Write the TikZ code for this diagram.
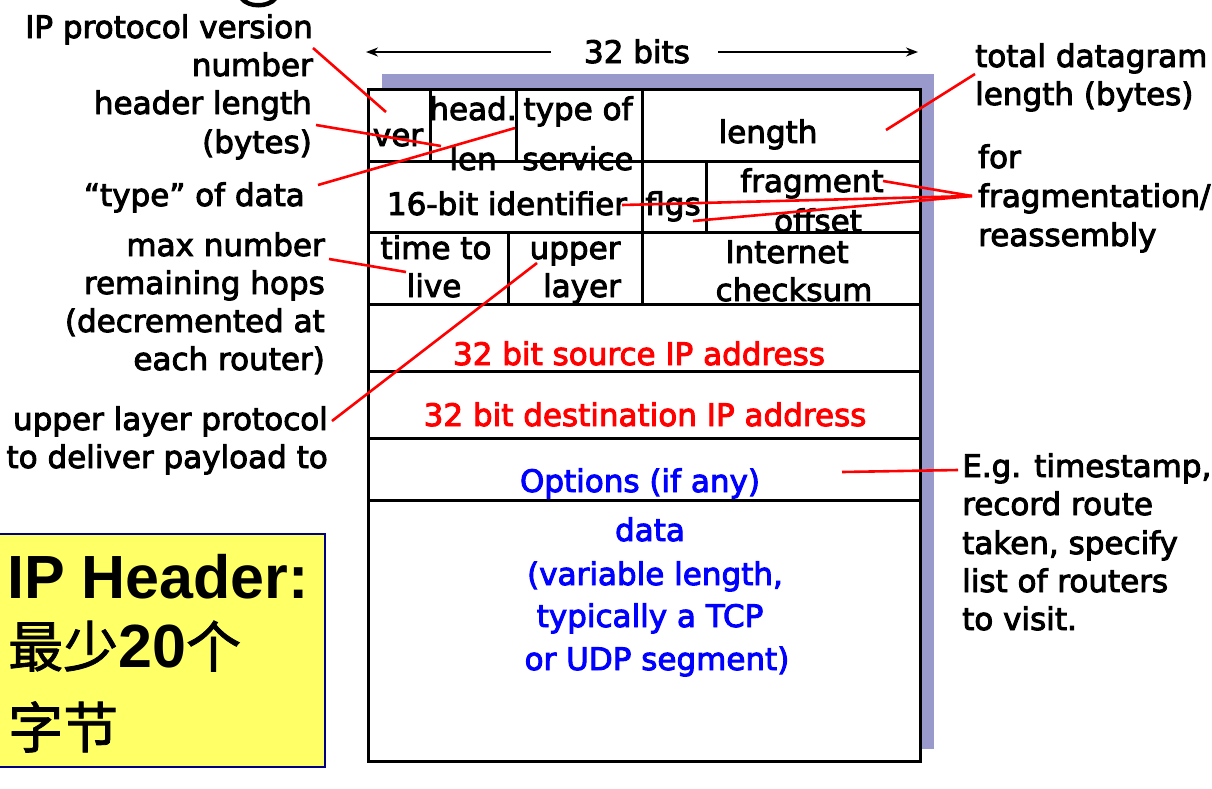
\documentclass[tikz,border=0pt]{standalone}
\usepackage{fontspec}
\setmainfont{DejaVu Sans}
\newfontfamily\comic{DejaVu Sans}[FakeBold=3]
\newfontfamily\hdrfont{Liberation Sans}
\newfontfamily\cjkfont{Noto Sans CJK SC}[FakeBold=1.5]
\usetikzlibrary{arrows.meta}
\definecolor{shadowc}{HTML}{9999CC}
\definecolor{notey}{HTML}{FFFF66}
\definecolor{navyb}{HTML}{000080}
\definecolor{txtred}{HTML}{FF0000}
\definecolor{txtblue}{HTML}{0000FF}
\begin{document}
\begin{tikzpicture}[x=1pt,y=-1pt,
  txt/.style={inner sep=0pt, font=\comic\fontsize{31}{38}\selectfont},
  lab/.style={txt, anchor=base east},
  rlab/.style={txt, anchor=base west},
  fld/.style={txt, anchor=base},
  redline/.style={draw=txtred, line width=2.6pt},
  frame/.style={draw=black, line width=3pt},
  dimarrow/.style={draw=black, line width=2pt, -{Stealth[length=12pt,width=9pt]}}
]
\useasboundingbox (0,0) rectangle (1212,788);
\fill[white] (0,0) rectangle (1212,788);

% cropped title fragment
\fill[black] (240,0) .. controls (248,10) and (269,10) .. (277,0) -- (270,0) .. controls (264,4) and (252,4) .. (247,0) -- cycle;

% shadow and frame
\fill[shadowc] (382,74) rectangle (934,749);
\fill[white] (368,89) rectangle (920,761);
\draw[frame] (368,89) rectangle (920,761);
\foreach \yy in {161,232,304,371,438,500} \draw[frame] (368,\yy) -- (920,\yy);
\draw[frame] (430,89) -- (430,161);
\draw[frame] (516,89) -- (516,161);
\draw[frame] (642,89) -- (642,304);
\draw[frame] (706,161) -- (706,232);
\draw[frame] (508,232) -- (508,304);

% 32 bits
\node[fld] (bits) at (637,63) {32 bits};
\coordinate (bl) at (366,52);
\coordinate (br) at (918,52);
\draw[dimarrow] ([xshift=-86pt,yshift=11pt]bits.base) -- (bl);
\draw[dimarrow] ([xshift=81pt,yshift=11pt]bits.base) -- (br);

% fields
\node[fld] (ver) at (398,146) {ver};
\node[fld] (hd1) at (473,120) {head.};
\node[fld] (hd2) at (473,170) {len};
\node[fld] (ts1) at (578,120) {type of};
\node[fld] (ts2) at (578,170) {service};
\node[fld] (len) at (768,143) {length};
\node[fld] (ident) at (507,215) {16-bit identifier};
\node[fld] (flgs) at (673,215) {flgs};
\node[fld] (fo1) at (812,192) {fragment};
\node[fld] (fo2) at (818,232) {offset};
\node[fld] (tt1) at (436,259) {time to};
\node[fld] (tt2) at (434,297) {live};
\node[fld] (ul1) at (575,259) {upper};
\node[fld] (ul2) at (582,297) {layer};
\node[fld] (ck1) at (787,263) {Internet};
\node[fld] (ck2) at (794,301) {checksum};
\node[fld, text=txtred] (src) at (639,365) {32 bit source IP address};
\node[fld, text=txtred] (dst) at (645,426) {32 bit destination IP address};
\node[fld, text=txtblue] (opt) at (640,492) {Options (if any)};
\node[fld, text=txtblue] (d1) at (650,541) {data};
\node[fld, text=txtblue] (d2) at (655,585) {(variable length,};
\node[fld, text=txtblue] (d3) at (650,627) {typically a TCP};
\node[fld, text=txtblue] (d4) at (657,670) {or UDP segment)};

% left labels
\node[lab] (l1a) at (313,38) {IP protocol version};
\node[lab] (l1b) at (313,76) {number};
\node[lab] (l2a) at (312,114) {header length};
\node[lab] (l2b) at (312,153) {(bytes)};
\node[lab] (l3) at (305,206) {“type” of data};
\node[lab] (l4a) at (325,256) {max number};
\node[lab] (l4b) at (325,294) {remaining hops};
\node[lab] (l4c) at (325,332) {(decremented at};
\node[lab] (l4d) at (325,370) {each router)};
\node[lab] (l5a) at (328,430) {upper layer protocol};
\node[lab] (l5b) at (328,468) {to deliver payload to};

% right labels
\node[rlab] (r1a) at (975,67) {total datagram};
\node[rlab] (r1b) at (975,105) {length (bytes)};
\node[rlab] (r2a) at (978,168) {for};
\node[rlab] (r2b) at (978,207) {fragmentation/};
\node[rlab] (r2c) at (978,246) {reassembly};
\node[rlab] (r3a) at (962,477) {E.g. timestamp,};
\node[rlab] (r3b) at (962,515) {record route};
\node[rlab] (r3c) at (962,554) {taken, specify};
\node[rlab] (r3d) at (962,592) {list of routers};
\node[rlab] (r3e) at (962,630) {to visit.};

% connector end points
\coordinate (c1s) at (313,48);  \coordinate (c1e) at (386,112);
\coordinate (c2s) at (316,125); \coordinate (c2e) at (441,146);
\coordinate (c3s) at (318,185); \coordinate (c3e) at (515,128);
\coordinate (c4s) at (329,259); \coordinate (c4e) at (406,272);
\coordinate (c5s) at (332,421); \coordinate (c5e) at (537,263);
\coordinate (c6s) at (975,74);  \coordinate (c6e) at (886,130);
\coordinate (c7s) at (972,196);
\coordinate (c7a) at (883,181); \coordinate (c7b) at (622,205); \coordinate (c7c) at (693,221);
\coordinate (c8s) at (958,470); \coordinate (c8e) at (842,472);

\draw[redline] (c1s) -- (c1e);
\draw[redline] (c2s) -- (c2e);
\draw[redline] (c3s) -- (c3e);
\draw[redline] (c4s) -- (c4e);
\draw[redline] (c5s) -- (c5e);
\draw[redline] (c6s) -- (c6e);
\draw[redline] (c7s) -- (c7a);
\draw[redline] (c7s) -- (c7b);
\draw[redline] (c7s) -- (c7c);
\draw[redline] (c8s) -- (c8e);

% yellow note
\draw[fill=notey, draw=navyb, line width=2pt] (-5,534) rectangle (325,767);
\node[inner sep=0pt, anchor=base west, font=\hdrfont\bfseries\fontsize{61}{61}\selectfont] (nt1) at (7,598) {IP Header:};
\node[inner sep=0pt, anchor=base west, font=\fontsize{55}{60}\selectfont] (nt2) at (8,667) {\cjkfont 最少{\hdrfont\bfseries\fontsize{61}{61}\selectfont 20}个};
\node[inner sep=0pt, anchor=base west, font=\fontsize{55}{60}\selectfont] (nt3) at (8,748) {\cjkfont 字节};
\end{tikzpicture}
\end{document}
